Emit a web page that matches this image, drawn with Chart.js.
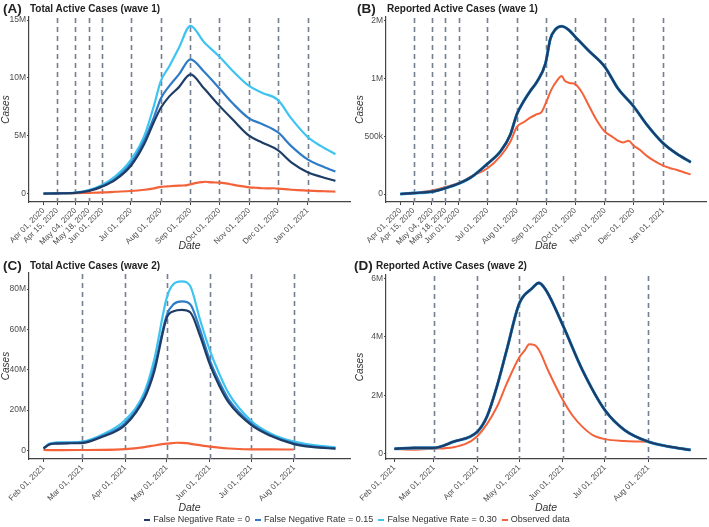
<!DOCTYPE html>
<html>
<head>
<meta charset="utf-8">
<script src="https://cdn.jsdelivr.net/npm/chart.js@4"></script>
<style>
  body { margin:0; background:#fff; width:709px; height:527px; position:relative; overflow:hidden;
         font-family:"Liberation Sans", Arial, sans-serif; color:#222; }
  canvas { position:absolute; }
  .tag { position:absolute; font-weight:bold; font-size:13.5px; line-height:14px; }
  .ttl { position:absolute; font-weight:bold; font-size:10px; line-height:12px; }
  #legend { position:absolute; left:0; width:709px; top:514px; text-align:center; font-size:9px; color:#333; }
  #legend span.sw { display:inline-block; width:6px; height:2px; vertical-align:middle; margin:0 3px 0 5px; }
</style>
</head>
<body>

<canvas id="cA" width="354" height="255" style="left:0;top:0"></canvas>
<canvas id="cB" width="355" height="255" style="left:354px;top:0"></canvas>
<canvas id="cC" width="354" height="259" style="left:0;top:258px"></canvas>
<canvas id="cD" width="355" height="259" style="left:354px;top:258px"></canvas>

<div class="tag" style="left:3px;top:2px">(A)</div>
<div class="ttl" style="left:30px;top:3px">Total Active Cases (wave 1)</div>
<div class="tag" style="left:357px;top:2px">(B)</div>
<div class="ttl" style="left:387px;top:3px">Reported Active Cases (wave 1)</div>
<div class="tag" style="left:3px;top:259px">(C)</div>
<div class="ttl" style="left:30px;top:260px">Total Active Cases (wave 2)</div>
<div class="tag" style="left:354px;top:259px">(D)</div>
<div class="ttl" style="left:376px;top:260px">Reported Active Cases (wave 2)</div>

<div id="legend"></div>

<script>
// 凡例
var seriesNames = ['False Negative Rate = 0', 'False Negative Rate = 0.15', 'False Negative Rate = 0.30', 'Observed data'];
var seriesColors = ['#1d3d66', '#2f7cc6', '#3ec4f0', '#f4623a'];

// x軸 (日付)
var wave1Start = '2020-04-01';
var wave2Start = '2021-02-01';
var wave1TickDates = ['2020-04-01','2020-04-15','2020-05-04','2020-05-18','2020-06-01','2020-07-01','2020-08-01','2020-09-01','2020-10-01','2020-11-01','2020-12-01','2021-01-01'];
var wave1TickLabels = ['Apr 01, 2020','Apr 15, 2020','May 04, 2020','May 18, 2020','Jun 01, 2020','Jul 01, 2020','Aug 01, 2020','Sep 01, 2020','Oct 01, 2020','Nov 01, 2020','Dec 01, 2020','Jan 01, 2021'];
var wave1Dashed = ['2020-04-15','2020-05-04','2020-05-18','2020-06-01','2020-07-01','2020-08-01','2020-09-01','2020-10-01','2020-11-01','2020-12-01','2021-01-01'];
var wave2TickDates = ['2021-02-01','2021-03-01','2021-04-01','2021-05-01','2021-06-01','2021-07-01','2021-08-01'];
var wave2TickLabels = ['Feb 01, 2021','Mar 01, 2021','Apr 01, 2021','May 01, 2021','Jun 01, 2021','Jul 01, 2021','Aug 01, 2021'];
var wave2Dashed = ['2021-03-01','2021-04-01','2021-05-01','2021-06-01','2021-07-01','2021-08-01'];

// y軸 (百万人)
var totalW1Ticks = [0, 5, 10, 15];
var totalW1Labels = ['0', '5M', '10M', '15M'];
var reportedW1Ticks = [0, 0.5, 1, 1.5];
var reportedW1Labels = ['0', '500k', '1M', '2M'];
var totalW2Ticks = [0, 20, 40, 60, 80];
var totalW2Labels = ['0', '20M', '40M', '60M', '80M'];
var reportedW2Ticks = [0, 2, 4, 6];
var reportedW2Labels = ['0', '2M', '4M', '6M'];

// (A) Total active, wave 1
var totalW1Dates = ['2020-04-01','2020-04-15','2020-05-04','2020-05-18','2020-06-01','2020-06-15','2020-07-01','2020-07-15','2020-07-25','2020-08-01','2020-08-10','2020-08-20','2020-09-01','2020-09-15','2020-10-01','2020-10-15','2020-11-01','2020-11-15','2020-12-01','2020-12-15','2021-01-01','2021-01-15','2021-01-30'];
var totalW1Fnr0  = [0, 0.02, 0.06, 0.22, 0.6, 1.2, 2.4, 4.3, 6.2, 7.4, 8.4, 9.2, 10.3, 9.1, 7.6, 6.4, 5.0, 4.4, 3.75, 2.7, 1.85, 1.45, 1.1];
var totalW1Fnr15 = [0, 0.02, 0.07, 0.25, 0.65, 1.3, 2.6, 4.6, 6.6, 8.2, 9.3, 10.3, 11.6, 10.55, 9.1, 7.8, 6.5, 6.0, 5.3, 4.1, 2.95, 2.4, 1.9];
var totalW1Fnr30 = [0, 0.02, 0.08, 0.3, 0.75, 1.5, 2.9, 5.0, 7.6, 9.7, 11.0, 12.6, 14.5, 13.1, 11.85, 10.6, 9.3, 8.7, 8.1, 6.5, 4.9, 4.1, 3.4];

// (B) Reported active, wave 1 (3 rates overlap)
var reportedW1Dates = ['2020-04-01','2020-04-15','2020-05-04','2020-05-18','2020-06-01','2020-06-15','2020-07-01','2020-07-15','2020-07-25','2020-08-01','2020-08-08','2020-08-15','2020-08-22','2020-08-31','2020-09-05','2020-09-10','2020-09-17','2020-09-24','2020-10-01','2020-10-15','2020-11-01','2020-11-15','2020-12-01','2020-12-15','2021-01-01','2021-01-15','2021-01-30'];
var reportedW1Model = [0, 0.008, 0.02, 0.05, 0.09, 0.15, 0.26, 0.37, 0.51, 0.69, 0.8, 0.89, 0.97, 1.13, 1.34, 1.42, 1.45, 1.42, 1.36, 1.24, 1.1, 0.91, 0.76, 0.6, 0.44, 0.35, 0.275];

// observed data, wave 1
var observedW1Dates = ['2020-04-01','2020-04-15','2020-05-04','2020-05-18','2020-06-01','2020-06-15','2020-07-01','2020-07-15','2020-07-25','2020-08-01','2020-08-08','2020-08-15','2020-08-22','2020-08-27','2020-09-01','2020-09-06','2020-09-12','2020-09-17','2020-09-20','2020-09-25','2020-10-01','2020-10-08','2020-10-15','2020-10-22','2020-11-01','2020-11-08','2020-11-15','2020-11-20','2020-11-26','2020-12-01','2020-12-08','2020-12-15','2020-12-22','2021-01-01','2021-01-08','2021-01-15','2021-01-22','2021-01-30'];
var observedW1 = [0, 0.01, 0.03, 0.06, 0.095, 0.155, 0.22, 0.33, 0.45, 0.58, 0.62, 0.66, 0.69, 0.71, 0.8, 0.9, 0.98, 1.02, 0.98, 0.96, 0.95, 0.88, 0.77, 0.66, 0.54, 0.5, 0.46, 0.445, 0.46, 0.42, 0.38, 0.33, 0.29, 0.245, 0.225, 0.21, 0.19, 0.17];

// (C) Total active, wave 2
var totalW2Dates = ['2021-02-01','2021-02-05','2021-02-10','2021-02-20','2021-03-01','2021-03-15','2021-04-01','2021-04-15','2021-04-22','2021-05-01','2021-05-06','2021-05-12','2021-05-18','2021-05-25','2021-06-01','2021-06-08','2021-06-15','2021-07-01','2021-07-15','2021-08-01','2021-08-15','2021-08-31'];
var totalW2Fnr0  = [0.9, 2.8, 3.3, 3.5, 3.6, 6.6, 12.6, 26, 39, 65.6, 69, 69.7, 68.5, 57, 43, 32, 23.5, 12.6, 7.2, 3.1, 1.6, 0.8];
var totalW2Fnr15 = [1.0, 3.0, 3.6, 3.7, 3.9, 7.0, 13.4, 27, 41, 67, 72.5, 73.9, 72.5, 60, 45, 34, 25, 13.4, 7.6, 3.5, 1.8, 1.0];
var totalW2Fnr30 = [1.0, 3.3, 3.9, 4.0, 4.3, 7.6, 15, 29, 45, 75.5, 82.5, 83.8, 81.5, 65, 50, 38, 28, 14.7, 8.4, 4.3, 2.6, 1.5];

// (D) Reported active, wave 2 (3 rates overlap)
var reportedW2Dates = ['2021-02-01','2021-02-15','2021-03-01','2021-03-15','2021-04-01','2021-04-08','2021-04-15','2021-04-22','2021-05-01','2021-05-10','2021-05-15','2021-05-20','2021-06-01','2021-06-15','2021-07-01','2021-07-15','2021-08-01','2021-08-15','2021-08-31'];
var reportedW2Model = [0.17, 0.2, 0.2, 0.41, 0.75, 1.28, 2.3, 3.55, 5.15, 5.66, 5.85, 5.6, 4.4, 2.86, 1.49, 0.81, 0.41, 0.25, 0.13];

// observed data, wave 2
var observedW2Dates = ['2021-02-01','2021-02-15','2021-03-01','2021-03-15','2021-04-01','2021-04-15','2021-04-22','2021-05-01','2021-05-05','2021-05-08','2021-05-12','2021-05-15','2021-05-22','2021-06-01','2021-06-08','2021-06-15','2021-06-22','2021-07-01','2021-07-15','2021-08-01'];
var observedW2 = [0.16, 0.14, 0.17, 0.22, 0.6, 1.6, 2.4, 3.3, 3.55, 3.75, 3.72, 3.55, 2.8, 1.84, 1.3, 0.92, 0.65, 0.5, 0.44, 0.41];

// 日付 -> 起点からの日数
function dayOf(s, origin) {
  return (Date.parse(s + 'T00:00:00Z') - Date.parse(origin + 'T00:00:00Z')) / 86400000;
}
function pts(dates, values, origin) {
  return dates.map(function (d, i) { return { x: dayOf(d, origin), y: values[i] }; });
}
function line(idx, data, width) {
  return {
    label: seriesNames[idx], data: data, borderColor: seriesColors[idx], backgroundColor: seriesColors[idx],
    borderWidth: width || 2.2, pointRadius: 0, cubicInterpolationMode: 'monotone', fill: false
  };
}

// 破線の縦線
var dashedLines = {
  id: 'dashedLines',
  beforeDatasetsDraw: function (chart, args, opts) {
    var ctx = chart.ctx, area = chart.chartArea, xs = chart.scales.x;
    ctx.save();
    ctx.setLineDash([5, 4]);
    ctx.strokeStyle = '#74808f';
    ctx.lineWidth = 1.6;
    opts.days.forEach(function (d) {
      var px = Math.round(xs.getPixelForValue(d)) + 0.5;
      ctx.beginPath();
      ctx.moveTo(px, area.top + 1);
      ctx.lineTo(px, area.bottom);
      ctx.stroke();
    });
    ctx.restore();
  }
};

function makeChart(id, p) {
  var axisColor = '#444';
  var tickDays = p.tickDates.map(function (d) { return dayOf(d, p.origin); });
  new Chart(document.getElementById(id).getContext('2d'), {
    type: 'line',
    data: { datasets: p.datasets },
    plugins: [dashedLines],
    options: {
      responsive: false,
      animation: false,
      layout: { padding: p.padding },
      plugins: {
        legend: { display: false },
        tooltip: { enabled: false },
        dashedLines: { days: p.dashed.map(function (d) { return dayOf(d, p.origin); }) }
      },
      scales: {
        x: {
          type: 'linear', min: p.xMin, max: p.xMax,
          afterBuildTicks: function (s) { s.ticks = tickDays.map(function (v) { return { value: v }; }); },
          afterFit: function (s) { s.height = p.xHeight; },
          grid: { display: true, drawOnChartArea: false, drawTicks: true, tickLength: 3, color: axisColor },
          border: { display: true, color: axisColor, width: 1.2 },
          ticks: {
            autoSkip: false, minRotation: 45, maxRotation: 45, padding: 1,
            color: '#4d4d4d', font: { size: 8, family: '"Liberation Sans", Arial, sans-serif' },
            callback: function (v, i) { return p.tickLabels[i]; }
          },
          title: { display: true, text: 'Date', color: '#333', padding: { top: 2, bottom: 3 },
                   font: { size: 10.5, style: 'italic', family: '"Liberation Sans", Arial, sans-serif' } }
        },
        y: {
          type: 'linear', min: p.yMin, max: p.yMax,
          afterBuildTicks: function (s) { s.ticks = p.yTicks.map(function (v) { return { value: v }; }); },
          afterFit: function (s) { s.width = p.yWidth; },
          grid: { display: true, drawOnChartArea: false, drawTicks: true, tickLength: 2, color: axisColor },
          border: { display: true, color: axisColor, width: 1.2 },
          ticks: {
            padding: 1, color: '#4d4d4d', font: { size: 8.5, family: '"Liberation Sans", Arial, sans-serif' },
            callback: function (v, i) { return p.yLabels[i]; }
          },
          title: { display: true, text: 'Cases', color: '#333', padding: { top: 0, bottom: 0 },
                   font: { size: 10, style: 'italic', family: '"Liberation Sans", Arial, sans-serif' } }
        }
      }
    }
  });
}

makeChart('cA', {
  origin: wave1Start, tickDates: wave1TickDates, tickLabels: wave1TickLabels, dashed: wave1Dashed,
  yTicks: totalW1Ticks, yLabels: totalW1Labels,
  xMin: -15.2, xMax: 319.2, yMin: -0.73, yMax: 15.26,
  padding: { top: 17, right: 4, left: 0, bottom: 0 }, yWidth: 29, xHeight: 53,
  datasets: [
    line(0, pts(totalW1Dates, totalW1Fnr0, wave1Start)),
    line(1, pts(totalW1Dates, totalW1Fnr15, wave1Start)),
    line(2, pts(totalW1Dates, totalW1Fnr30, wave1Start)),
    line(3, pts(observedW1Dates, observedW1, wave1Start))
  ]
});

makeChart('cB', {
  origin: wave1Start, tickDates: wave1TickDates, tickLabels: wave1TickLabels, dashed: wave1Dashed,
  yTicks: reportedW1Ticks, yLabels: reportedW1Labels,
  xMin: -15, xMax: 320, yMin: -0.069, yMax: 1.53,
  padding: { top: 17, right: 3, left: 0, bottom: 0 }, yWidth: 32, xHeight: 53,
  datasets: [
    line(0, pts(reportedW1Dates, reportedW1Model, wave1Start), 2.2),
    line(1, pts(reportedW1Dates, reportedW1Model, wave1Start), 2.6),
    line(2, pts(reportedW1Dates, reportedW1Model, wave1Start), 3.0),
    line(3, pts(observedW1Dates, observedW1, wave1Start), 2)
  ]
});

makeChart('cC', {
  origin: wave2Start, tickDates: wave2TickDates, tickLabels: wave2TickLabels, dashed: wave2Dashed,
  yTicks: totalW2Ticks, yLabels: totalW2Labels,
  xMin: -10.5, xMax: 221.5, yMin: -4.3, yMax: 87.95,
  padding: { top: 15, right: 4, left: 0, bottom: 0 }, yWidth: 29, xHeight: 58,
  datasets: [
    line(0, pts(totalW2Dates, totalW2Fnr0, wave2Start)),
    line(1, pts(totalW2Dates, totalW2Fnr15, wave2Start)),
    line(2, pts(totalW2Dates, totalW2Fnr30, wave2Start)),
    line(3, pts(observedW2Dates, observedW2, wave2Start))
  ]
});

makeChart('cD', {
  origin: wave2Start, tickDates: wave2TickDates, tickLabels: wave2TickLabels, dashed: wave2Dashed,
  yTicks: reportedW2Ticks, yLabels: reportedW2Labels,
  xMin: -6, xMax: 222, yMin: -0.18, yMax: 6.12,
  padding: { top: 17, right: 3, left: 0, bottom: 0 }, yWidth: 32, xHeight: 58,
  datasets: [
    line(0, pts(reportedW2Dates, reportedW2Model, wave2Start), 2.2),
    line(1, pts(reportedW2Dates, reportedW2Model, wave2Start), 2.6),
    line(2, pts(reportedW2Dates, reportedW2Model, wave2Start), 3.0),
    line(3, pts(observedW2Dates, observedW2, wave2Start), 2)
  ]
});

// 凡例 (HTML)
var lg = document.getElementById('legend');
seriesNames.forEach(function (name, i) {
  var sw = document.createElement('span');
  sw.className = 'sw';
  sw.style.background = seriesColors[i];
  lg.appendChild(sw);
  lg.appendChild(document.createTextNode(name));
});
</script>
</body>
</html>
